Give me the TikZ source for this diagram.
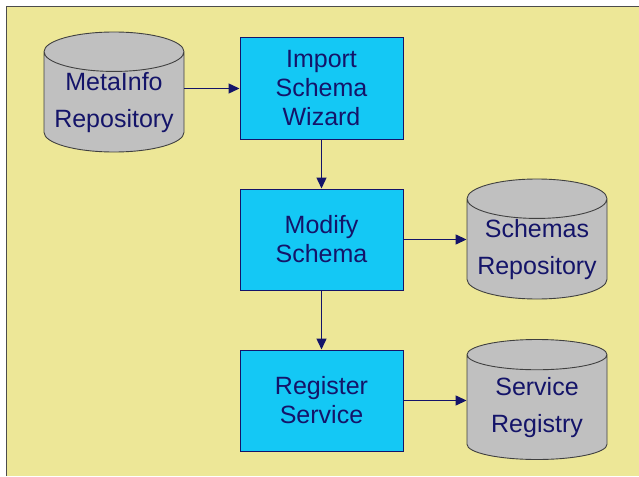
\documentclass[tikz,border=0pt]{standalone}
\usepackage{fontspec}
\setmainfont{Liberation Sans}
\usetikzlibrary{positioning,arrows.meta,shapes.geometric}
\definecolor{BgYellow}{RGB}{237,231,151}
\definecolor{BoxCyan}{RGB}{20,200,245}
\definecolor{DbGray}{RGB}{192,192,192}
\definecolor{InkNavy}{RGB}{20,20,105}

\begin{document}
\begin{tikzpicture}[x=1pt,y=-1pt,
  proc/.style={rectangle,fill=BoxCyan,draw=InkNavy,line width=1pt,minimum width=163pt,minimum height=101pt,inner sep=0pt,align=center,text=InkNavy,font=\fontsize{25}{29}\selectfont},
  store/.style={cylinder,shape border rotate=90,aspect=0.33,fill=DbGray,draw=black!75,line width=0.9pt,minimum width=140pt,minimum height=120pt,inner sep=0pt,align=center,text=InkNavy,font=\fontsize{25}{37}\selectfont},
  flow/.style={draw=InkNavy,line width=1.4pt,-{Triangle[length=11pt,width=10pt]}}]
\useasboundingbox (0,0) rectangle (639,476);
\fill[BgYellow] (6,6) rectangle (639,476);
\draw[black!70,line width=1.2pt] (6.5,476) -- (6.5,6.5) -- (639,6.5);
\coordinate (cmeta) at (114,92);\coordinate (cimport) at (321.5,88.5);\coordinate (cmodify) at (321.5,239.5);
\coordinate (cregister) at (321.5,400.5);\coordinate (cschemas) at (537,239);\coordinate (cregistry) at (537,399.5);
\node[store,anchor=shape center] (meta) at (cmeta) {MetaInfo\\Repository};
\node[proc] (import) at (cimport) {Import\\Schema\\Wizard};
\node[proc] (modify) at (cmodify) {Modify\\Schema};
\node[proc] (register) at (cregister) {Register\\Service};
\node[store,anchor=shape center] (schemas) at (cschemas) {Schemas\\Repository};
\node[store,anchor=shape center] (registry) at (cregistry) {Service\\Registry};
\draw[flow] (meta.east |- import.west) -- (import.west);
\draw[flow] (import.south) -- (modify.north);
\draw[flow] (modify.south) -- (register.north);
\draw[flow] (modify.east) -- (schemas.west |- modify.east);
\draw[flow] (register.east) -- (registry.west |- register.east);
\end{tikzpicture}
\end{document}
